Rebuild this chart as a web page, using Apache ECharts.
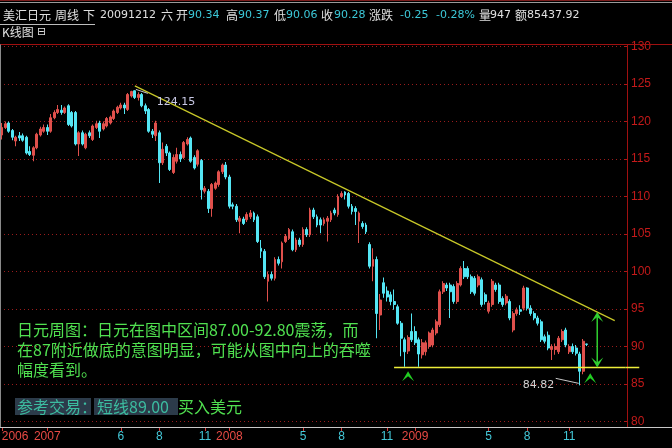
<!DOCTYPE html>
<html>
<head>
<meta charset="utf-8">
<script src="https://cdn.jsdelivr.net/npm/echarts@6.0.0/dist/echarts.min.js"></script>
<style>
html,body{margin:0;padding:0;background:#000;}
#c{width:672px;height:448px;}
</style>
</head>
<body>
<div id="c"></div>
<script>
// ---- weekly USD/JPY candles ----
const open  = [118.2,119.2,119.8,118.8,117.4,118.1,118.1,117.9,116.0,115.5,116.5,118.2,118.7,119.2,118.7,120.5,121.2,121.5,121.2,122.1,
121.2,121.2,117.0,118.5,116.5,118.5,117.6,119.2,119.8,119.0,119.4,119.8,120.4,121.2,121.8,122.2,121.6,123.4,124.1,123.2,
123.6,122.1,121.6,118.7,118.1,118.5,114.5,116.7,115.8,113.2,114.7,115.6,115.2,117.0,117.8,115.2,114.3,114.8,110.7,110.7,
108.4,111.1,111.6,113.3,114.2,112.6,108.9,108.7,106.7,107.0,106.9,107.3,107.8,107.3,103.1,102.7,98.7,99.6,99.1,101.6,
101.3,104.0,104.4,105.3,102.9,104.2,103.6,105.6,104.9,108.2,107.3,106.9,106.4,106.7,106.9,108.2,107.6,110.0,110.6,110.4,
108.7,108.4,106.7,106.4,106.2,103.6,100.7,101.6,94.2,98.5,97.4,96.9,96.0,95.3,93.1,90.9,89.4,92.0,92.0,90.9,
88.9,89.3,90.0,90.2,91.8,92.9,97.3,98.2,98.2,98.0,96.0,98.2,100.4,100.4,99.3,99.1,98.2,98.9,96.9,94.7,
95.6,98.2,98.2,96.4,95.8,96.0,92.2,94.4,94.9,95.1,97.8,95.1,94.4,93.8,93.3,91.3,91.5,89.6,89.6,89.3,
90.9,92.2,89.3,90.0,89.8,89.0,86.7,90.34];
const close = [119.2,119.7,118.7,117.9,117.9,117.8,117.5,115.8,115.6,116.5,118.3,119.0,119.2,118.7,120.5,121.2,121.6,121.2,121.8,119.6,
119.4,117.0,118.5,117.0,118.3,118.1,119.4,119.7,118.7,119.7,120.4,120.6,121.4,121.9,122.2,121.8,123.6,124.0,123.2,123.6,
122.1,121.4,118.7,118.3,119.8,114.5,116.3,115.8,113.6,115.2,115.6,115.0,117.2,117.6,114.7,113.8,116.1,110.9,111.1,108.4,
111.6,111.8,113.3,114.2,112.6,108.7,108.7,106.9,107.1,106.4,107.6,107.8,106.9,104.0,102.7,99.3,99.6,99.1,101.6,101.1,
103.8,104.7,105.6,102.9,104.2,103.6,105.6,104.9,108.2,107.3,106.2,106.2,106.9,107.1,107.8,107.8,110.0,110.4,110.2,108.7,
108.0,108.0,107.8,106.0,105.3,100.7,101.6,94.4,96.2,97.1,96.6,96.0,95.6,93.1,91.1,89.3,91.2,90.9,90.5,89.0,
90.5,90.5,91.8,92.2,93.3,97.3,98.4,97.8,97.3,96.0,98.4,100.4,99.3,99.3,97.3,97.1,99.3,95.6,96.0,95.8,
98.7,97.6,96.0,95.6,96.7,93.8,94.4,94.9,94.7,97.8,95.1,94.4,93.8,93.1,90.9,90.7,89.8,90.0,90.0,91.1,
92.0,90.2,90.0,89.3,89.1,86.7,90.7,90.28];
const low   = [117.6,119.0,118.5,117.5,116.7,117.4,117.3,115.6,115.4,114.7,116.3,118.0,118.5,118.2,118.5,120.3,121.0,120.9,121.0,119.4,
119.2,116.8,115.4,116.8,116.3,117.8,117.4,119.0,117.8,118.8,119.2,119.6,120.2,121.0,121.6,121.0,121.4,123.2,123.0,122.8,
121.9,121.0,118.5,117.8,117.4,111.8,114.2,115.4,113.4,113.0,114.4,114.6,115.0,116.8,114.5,113.6,114.0,109.6,110.4,107.8,
107.3,110.9,111.3,113.0,112.3,108.4,108.3,106.6,105.1,106.2,106.6,107.0,106.6,103.8,101.8,99.0,96.0,98.8,98.8,100.8,
100.4,103.8,104.2,102.7,102.6,103.3,103.3,104.6,104.6,107.0,105.9,105.1,106.1,104.0,106.6,107.5,107.3,109.8,109.6,108.4,
107.6,106.2,103.8,105.7,105.0,100.4,98.7,91.1,92.2,96.5,96.0,95.5,94.9,92.9,88.7,87.3,89.0,90.6,90.2,87.3,
88.4,88.8,89.7,89.9,91.5,92.6,97.0,97.4,93.8,95.7,95.7,98.0,99.0,99.0,97.0,96.8,97.9,95.3,95.6,94.4,
95.3,97.3,95.7,95.3,95.5,93.5,91.9,94.1,94.2,94.8,94.8,94.1,93.5,92.8,90.6,90.4,89.5,88.2,88.9,89.0,
90.6,89.9,89.0,89.0,88.8,84.82,86.3,90.06];
const high  = [119.8,120.0,120.0,119.0,118.1,118.6,118.4,118.1,116.7,116.7,118.5,119.3,119.6,119.6,121.0,121.5,122.2,122.2,122.0,122.3,
121.4,121.4,118.7,118.8,118.5,118.8,119.6,120.1,120.1,120.0,120.6,120.8,121.6,122.1,122.5,122.5,123.8,124.1,124.15,123.9,
123.8,122.4,121.8,119.0,120.1,118.8,117.2,117.0,116.0,115.6,116.5,116.0,117.4,117.9,118.0,115.5,116.3,115.0,111.4,111.0,
111.8,112.0,113.5,114.4,114.6,112.9,109.2,109.0,107.4,107.3,107.9,108.2,108.0,107.6,104.2,103.0,100.0,100.0,101.9,102.0,
104.0,105.0,105.8,105.6,104.5,104.5,105.9,105.9,108.5,108.5,107.6,107.2,107.2,107.4,108.1,108.5,110.3,110.7,110.7,110.6,
109.0,108.7,108.0,106.7,106.5,103.9,103.1,102.0,97.0,99.2,98.0,97.3,97.6,95.6,93.4,91.2,91.5,94.4,92.7,91.2,
91.0,90.8,92.0,92.5,93.6,97.6,98.7,98.5,98.5,98.3,98.7,100.7,101.4,100.7,99.6,99.4,99.6,99.2,97.2,96.1,
99.0,98.5,98.5,96.7,97.0,96.3,94.7,95.2,95.5,98.1,97.9,95.5,94.7,94.1,93.6,91.6,92.0,90.3,90.4,91.4,
92.3,92.5,90.3,90.4,90.2,89.3,91.0,90.37];

// x-axis: weekly slots (last slots are empty space on the right)
const slotCount = 179;
const tickIndex = [0, 13, 34, 45, 58, 65, 86, 97, 110, 118, 139, 150, 162];
const tickText  = ['2006','2007','6','8','11','2008','5','8','11','2009','5','8','11'];
const yearTicks = ['2006','2007','2008','2009'];

// annotations (price space)
const trendLine   = [[38, 124.75], [175, 93.45]];
const supportLine = [[112, 87.2], [178, 87.2]];
const supportExtendSlots = 4;
const peakMark = [38, 124.15];
const lowMark  = [165, 84.82];
const upArrows = [[116, 86.7], [168, 86.45]];
const rangeArrow = [170, 94.59, 87.2];

const cats = [];
for (let i = 0; i < slotCount; i++) cats.push(String(i));
const candles = open.map((o, i) => [o, close[i], low[i], high[i]]);
const tickMap = {};
tickIndex.forEach((t, k) => { tickMap[t] = tickText[k]; });
const showTick = (i) => tickMap[i] !== undefined;

const chart = echarts.init(document.getElementById('c'), null, {renderer: 'canvas', width: 672, height: 448});

const option = {
  backgroundColor: '#000000',
  animation: false,
  grid: {left: 0, right: 45, top: 46.5, bottom: 26.5, containLabel: false, outerBoundsMode: 'none'},
  xAxis: {
    type: 'category', data: cats, boundaryGap: true, offset: 5.5,
    axisLine: {show: false},
    axisTick: {show: true, alignWithLabel: true, interval: showTick, length: 4, lineStyle: {color: '#d83a3a', width: 1}},
    axisLabel: {
      interval: showTick, margin: 4, alignMinLabel: 'left', hideOverlap: false,
      fontFamily: '"Liberation Sans", Arial, sans-serif', fontSize: 12,
      formatter: (v, i) => { const t = tickMap[+v]; if (t === undefined) return ''; return yearTicks.indexOf(t) >= 0 ? '{y|' + t + '}' : '{m|' + t + '}'; },
      rich: {y: {color: '#e84a44', fontSize: 12, fontFamily: '"Liberation Sans", Arial, sans-serif'},
             m: {color: '#44c8d8', fontSize: 12, fontFamily: '"Liberation Sans", Arial, sans-serif'}}
    },
    splitLine: {show: false}
  },
  yAxis: {
    type: 'value', position: 'right', min: 80, max: 130, interval: 5, scale: true,
    axisLine: {show: false},
    axisTick: {show: true, inside: true, length: 3, lineStyle: {color: '#b01818'}},
    axisLabel: {color: '#c41a1a', fontSize: 12, fontFamily: '"Liberation Sans", Arial, sans-serif', margin: 4},
    splitLine: {show: true, lineStyle: {color: '#9a1c1c', type: [1, 3], width: 1}}
  },
  series: [
    {
      type: 'candlestick', data: candles, barWidth: 2.4,
      itemStyle: {color: '#e0504c', color0: '#54e6f4', borderColor: '#e0504c', borderColor0: '#54e6f4', borderWidth: 1}
    },
    {
      type: 'line', data: trendLine, showSymbol: false, symbol: 'none', silent: true, clip: false,
      lineStyle: {color: '#c8c828', width: 1.2}, z: 5
    },
    {
      type: 'line', data: supportLine, showSymbol: false, symbol: 'none', silent: true, clip: false,
      lineStyle: {color: '#eeee3a', width: 1.5}, z: 5
    }
  ]
};
chart.setOption(option);

const px = (i, v) => chart.convertToPixel({xAxisIndex: 0, yAxisIndex: 0}, [i, v]);
const cjk = '"Noto Sans CJK SC", sans-serif';
const num = '"DejaVu Sans", sans-serif';
const G = [];
function txt(x, y, s, fill, font) {
  G.push({type: 'text', x: x, y: y, silent: true, z: 20,
    style: {text: s, fill: fill, font: font, align: 'left', verticalAlign: 'middle', textAlign: 'left', textVerticalAlign: 'middle'}});
}
function ln(x1, y1, x2, y2, color, w) {
  G.push({type: 'line', silent: true, z: 15, shape: {x1: x1, y1: y1, x2: x2, y2: y2}, style: {stroke: color, lineWidth: w || 1}});
}
function chevron(cx, tipY, dir, color) {
  const h = 10 * dir, w = 6;
  G.push({type: 'polygon', silent: true, z: 16,
    shape: {points: [[cx, tipY], [cx + w, tipY + h], [cx, tipY + h * 0.5], [cx - w, tipY + h]]},
    style: {fill: color}});
}

// frame
ln(0, 0.5, 672, 0.5, '#7a1c1c', 1);
ln(0, 2.5, 672, 2.5, '#9a9a9a', 1);
ln(0, 44.5, 672, 44.5, '#a01010', 1);
ln(627.5, 44.5, 627.5, 427, '#a01010', 1);
ln(0, 427.5, 672, 427.5, '#c8c8c8', 1);
ln(0.5, 44.5, 0.5, 427, '#8a8a8a', 1);

// support line continues past the price axis
const s0 = px(supportLine[1][0], supportLine[1][1]);
const slot = px(1, 80)[0] - px(0, 80)[0];
ln(s0[0], s0[1], s0[0] + slot * supportExtendSlots, s0[1], '#eeee3a', 1.5);

// header
const W = '#e0e0e0', C = '#3cc8d8';
txt(3, 15, '美汇日元', W, '12px ' + cjk);
txt(55, 15, '周线', W, '12px ' + cjk);
txt(83, 15, '下', W, '12px ' + cjk);
txt(100, 15, '20091212', W, '11px ' + num);
txt(161, 15, '六', W, '12px ' + cjk);
txt(176, 15, '开', W, '12px ' + cjk);
txt(188, 15, '90.34', C, '11px ' + num);
txt(226, 15, '高', W, '12px ' + cjk);
txt(238, 15, '90.37', C, '11px ' + num);
txt(274, 15, '低', W, '12px ' + cjk);
txt(286, 15, '90.06', C, '11px ' + num);
txt(321, 15, '收', W, '12px ' + cjk);
txt(334, 15, '90.28', C, '11px ' + num);
txt(369, 15, '涨跌', W, '12px ' + cjk);
txt(400, 15, '-0.25', C, '11px ' + num);
txt(436, 15, '-0.28%', C, '11px ' + num);
txt(479, 15, '量', W, '12px ' + cjk);
txt(490, 15, '947', W, '11px ' + num);
txt(515, 15, '额', W, '12px ' + cjk);
txt(527, 15, '85437.92', W, '11px ' + num);
ln(0, 24.5, 95, 24.5, '#bdbdbd', 1);
txt(2, 32, 'K线图', W, '12px ' + cjk);
txt(37, 32, '⊟', W, '11px ' + num);

// notes
const GR = '#50e050';
txt(17, 330, '日元周图：日元在图中区间87.00-92.80震荡，而', GR, '16px ' + cjk);
txt(17, 350, '在87附近做底的意图明显，可能从图中向上的吞噬', GR, '16px ' + cjk);
txt(17, 370, '幅度看到。', GR, '16px ' + cjk);
G.push({type: 'rect', silent: true, z: 18, shape: {x: 15, y: 398, width: 76, height: 17}, style: {fill: '#2c3b4a'}});
G.push({type: 'rect', silent: true, z: 18, shape: {x: 94, y: 398, width: 84, height: 17}, style: {fill: '#2c3b4a'}});
txt(17, 407, '参考交易：短线89.00', '#3cbca0', '16px ' + cjk);
txt(178, 407, '买入美元', GR, '16px ' + cjk);

// price labels
const pk = px(peakMark[0], peakMark[1]);
ln(pk[0] + 1, pk[1] - 1, pk[0] + 13, pk[1] + 3, '#c8c8c8', 1);
txt(pk[0] + 22, pk[1] + 12, '124.15', '#c8c8e4', '11px ' + num);
const lw = px(lowMark[0], lowMark[1]);
ln(lw[0] - 24, lw[1] - 7, lw[0] - 1, lw[1] - 2, '#c8c8c8', 1);
txt(lw[0] - 57, lw[1] + 0, '84.82', '#d0d0d0', '11px ' + num);

// arrows
upArrows.forEach(a => { const p = px(a[0], a[1]); chevron(p[0], p[1], 1, '#22cc22'); });
const ra1 = px(rangeArrow[0], rangeArrow[1]);
const ra2 = px(rangeArrow[0], rangeArrow[2]);
ln(ra1[0], ra1[1] + 2, ra2[0], ra2[1] - 2, '#30d030', 1.5);
chevron(ra1[0], ra1[1], 1, '#30d030');
chevron(ra2[0], ra2[1], -1, '#30d030');

chart.setOption({graphic: G});
</script>
</body>
</html>
